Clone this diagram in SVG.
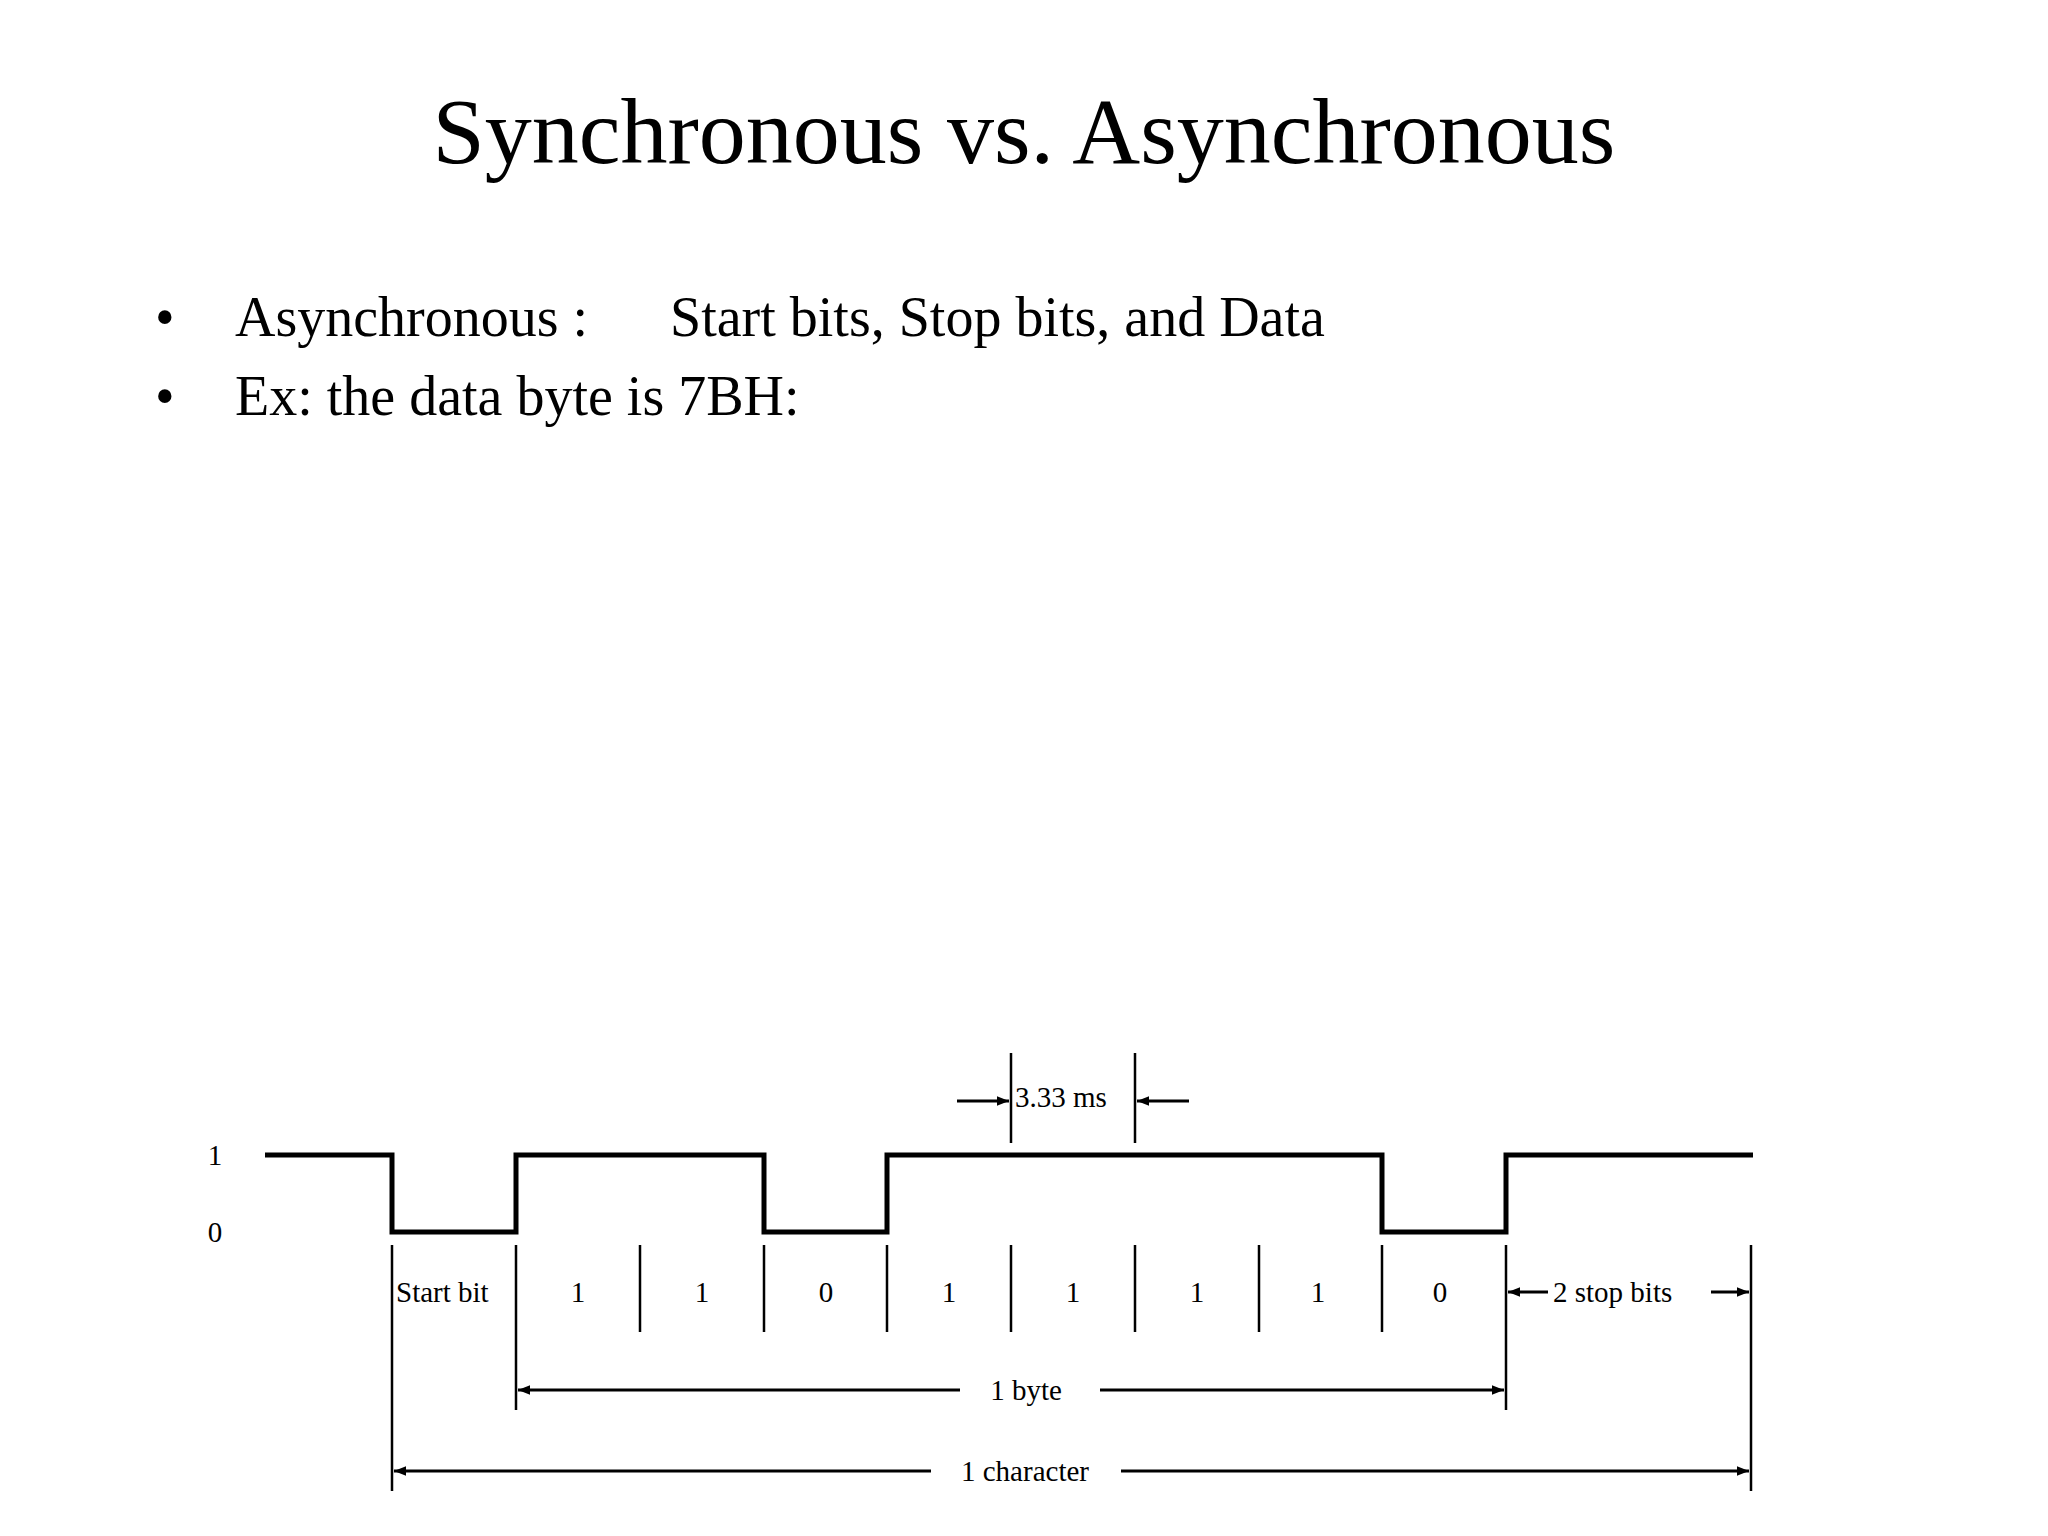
<svg xmlns="http://www.w3.org/2000/svg" width="2048" height="1536" viewBox="0 0 2048 1536">
<style>
text{font-family:"Liberation Serif",serif;fill:#000}
.t{font-size:94px}
.b{font-size:56px}
.s{font-size:29px}
.thin{stroke:#000;stroke-width:2.5;fill:none}
.arr{stroke:#000;stroke-width:3;fill:none}
</style>
<defs>
<marker id="ah" viewBox="0 0 10 10" refX="10" refY="5" markerWidth="10" markerHeight="8" markerUnits="userSpaceOnUse" orient="auto-start-reverse"><path d="M0,1 L10,5 L0,9 z" fill="#000"/></marker>
<marker id="ah2" viewBox="0 0 10 10" refX="10" refY="5" markerWidth="22" markerHeight="12" markerUnits="userSpaceOnUse" orient="auto-start-reverse"><path d="M0,1 L10,5 L0,9 z" fill="#000"/></marker>
</defs>
<rect width="2048" height="1536" fill="#fff"/>
<text class="t" x="1024" y="163" text-anchor="middle">Synchronous vs. Asynchronous</text>
<g id="bullets">
<text class="b" x="155" y="336">•</text>
<text class="b" x="235" y="336">Asynchronous :</text>
<text class="b" x="670" y="336">Start bits, Stop bits, and Data</text>
<text class="b" x="155" y="415">•</text>
<text class="b" x="235" y="415">Ex: the data byte is 7BH:</text>
</g>
<g id="signal">
<text class="s" x="215" y="1165" text-anchor="middle">1</text>
<text class="s" x="215" y="1242" text-anchor="middle">0</text>
<path d="M265,1155 H392 V1232 H516 V1155 H764 V1232 H887 V1155 H1382 V1232 H1506 V1155 H1753" stroke="#000" stroke-width="5" fill="none"/>
</g>
<g id="connectors">
<path class="thin" d="M392,1245 V1491 M516,1245 V1410 M1506,1245 V1410 M1751,1245 V1491 M640,1245 V1332 M764,1245 V1332 M887,1245 V1332 M1011,1245 V1332 M1135,1245 V1332 M1259,1245 V1332 M1382,1245 V1332 M1011,1053 V1143 M1135,1053 V1143"/>
<line class="arr" x1="957" y1="1101" x2="1009" y2="1101" marker-end="url(#ah2)"/>
<line class="arr" x1="1189" y1="1101" x2="1137" y2="1101" marker-end="url(#ah2)"/>
<line class="arr" x1="518" y1="1390" x2="960" y2="1390" marker-start="url(#ah2)"/>
<line class="arr" x1="1100" y1="1390" x2="1504" y2="1390" marker-end="url(#ah2)"/>
<line class="arr" x1="394" y1="1471" x2="931" y2="1471" marker-start="url(#ah2)"/>
<line class="arr" x1="1121" y1="1471" x2="1749" y2="1471" marker-end="url(#ah2)"/>
<line class="arr" x1="1508" y1="1292" x2="1548" y2="1292" marker-start="url(#ah2)"/>
<line class="arr" x1="1711" y1="1292" x2="1749" y2="1292" marker-end="url(#ah2)"/>
</g>
<g id="labels">
<text class="s" x="1015" y="1107">3.33 ms</text>
<text class="s" x="396" y="1302">Start bit</text>
<text class="s" x="578" y="1302" text-anchor="middle">1</text>
<text class="s" x="702" y="1302" text-anchor="middle">1</text>
<text class="s" x="826" y="1302" text-anchor="middle">0</text>
<text class="s" x="949" y="1302" text-anchor="middle">1</text>
<text class="s" x="1073" y="1302" text-anchor="middle">1</text>
<text class="s" x="1197" y="1302" text-anchor="middle">1</text>
<text class="s" x="1318" y="1302" text-anchor="middle">1</text>
<text class="s" x="1440" y="1302" text-anchor="middle">0</text>
<text class="s" x="1553" y="1302">2 stop bits</text>
<text class="s" x="1026" y="1400" text-anchor="middle">1 byte</text>
<text class="s" x="1025" y="1481" text-anchor="middle">1 character</text>
</g>
</svg>
